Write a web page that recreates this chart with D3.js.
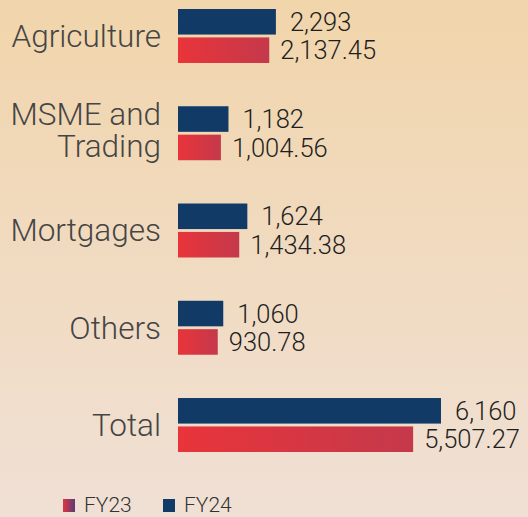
<!DOCTYPE html>
<html>
<head>
	<script src="https://cdn.jsdelivr.net/npm/d3@7"></script>
	<style>
		body { margin: 0; }
		text { font-family: "Roboto Light", Roboto, "Noto Sans", sans-serif; font-weight: 300; }
	</style>
</head>
<body>
	<script>
		var width = 528, height = 517;

		// data
		var categories = ["Agriculture", "MSME and\nTrading", "Mortgages", "Others", "Total"];
		var fy24 = [2293, 1182, 1624, 1060, 6160];
		var fy23 = [2137.45, 1004.56, 1434.38, 930.78, 5507.27];
		var fy24Labels = ["2,293", "1,182", "1,624", "1,060", "6,160"];
		var fy23Labels = ["2,137.45", "1,004.56", "1,434.38", "930.78", "5,507.27"];
		var seriesNames = ["FY23", "FY24"];

		var svg = d3.select("body").append("svg")
			.attr("width", width)
			.attr("height", height);

		var defs = svg.append("defs");

		var bg = defs.append("linearGradient").attr("id", "bg")
			.attr("x1", 0).attr("y1", 0).attr("x2", 0).attr("y2", 1);
		bg.append("stop").attr("offset", "0%").attr("stop-color", "#f1d5ab");
		bg.append("stop").attr("offset", "100%").attr("stop-color", "#f0e0d5");

		var red = defs.append("linearGradient").attr("id", "red");
		red.append("stop").attr("offset", "0%").attr("stop-color", "#e9343a");
		red.append("stop").attr("offset", "100%").attr("stop-color", "#c4394b");

		var legRed = defs.append("linearGradient").attr("id", "legred");
		legRed.append("stop").attr("offset", "0%").attr("stop-color", "#e3343e");
		legRed.append("stop").attr("offset", "100%").attr("stop-color", "#583c7a");

		svg.append("rect")
			.attr("width", width)
			.attr("height", height)
			.attr("fill", "url(#bg)");

		var rows = categories.map(function(c, i) {
			return { cat: c, fy24: fy24[i], fy23: fy23[i], l24: fy24Labels[i], l23: fy23Labels[i] };
		});

		var x = d3.scaleLinear()
			.domain([0, d3.max(fy24)])
			.range([178, 441]);

		var y = d3.scaleBand()
			.domain(categories)
			.range([9, 452])
			.paddingInner(0.445)
			.paddingOuter(0);

		var sub = d3.scaleBand()
			.domain(["FY24", "FY23"])
			.range([0, y.bandwidth()])
			.paddingInner(0.1);

		var g = svg.selectAll("g.row")
			.data(rows)
			.enter().append("g")
			.attr("class", "row")
			.attr("transform", function(d) { return "translate(0," + y(d.cat) + ")"; });

		// FY24 bars
		g.append("rect")
			.attr("x", x(0))
			.attr("y", sub("FY24"))
			.attr("width", function(d) { return x(d.fy24) - x(0); })
			.attr("height", sub.bandwidth())
			.attr("fill", "#123a66");

		// FY23 bars
		g.append("rect")
			.attr("x", x(0))
			.attr("y", sub("FY23"))
			.attr("width", function(d) { return x(d.fy23) - x(0); })
			.attr("height", sub.bandwidth())
			.attr("fill", "url(#red)");

		// value labels
		g.append("text")
			.attr("x", function(d) { return x(d.fy24) + 14; })
			.attr("y", sub("FY24") + sub.bandwidth() / 2)
			.attr("dy", "0.36em")
			.attr("font-size", 25.5)
			.attr("fill", "#1e1e1e")
			.text(function(d) { return d.l24; });

		g.append("text")
			.attr("x", function(d) { return x(d.fy23) + 11; })
			.attr("y", sub("FY23") + sub.bandwidth() / 2)
			.attr("dy", "0.36em")
			.attr("font-size", 25.5)
			.attr("fill", "#1e1e1e")
			.text(function(d) { return d.l23; });

		// category labels (one text per line)
		g.each(function(d) {
			var lines = d.cat.split("\n");
			var off = lines.length > 1 ? -3.5 : 0;
			var cell = d3.select(this);
			lines.forEach(function(line, i) {
				cell.append("text")
					.attr("text-anchor", "end")
					.attr("font-size", 31.5)
					.attr("fill", "#454545")
					.attr("x", 161)
					.attr("y", y.bandwidth() / 2 + 11 + off + (i - (lines.length - 1) / 2) * 32)
					.text(line);
			});
		});

		// legend
		var leg = svg.append("g").attr("transform", "translate(63,499)");
		var items = leg.selectAll("g")
			.data(seriesNames)
			.enter().append("g")
			.attr("transform", function(d, i) { return "translate(" + (i * 100) + ",0)"; });
		items.append("rect")
			.attr("width", 12)
			.attr("height", 13)
			.attr("fill", function(d) { return d === "FY23" ? "url(#legred)" : "#123a66"; });
		items.append("text")
			.attr("x", 21)
			.attr("y", 13)
			.attr("font-size", 21)
			.attr("fill", "#333")
			.text(function(d) { return d; });
	</script>
</body>
</html>
